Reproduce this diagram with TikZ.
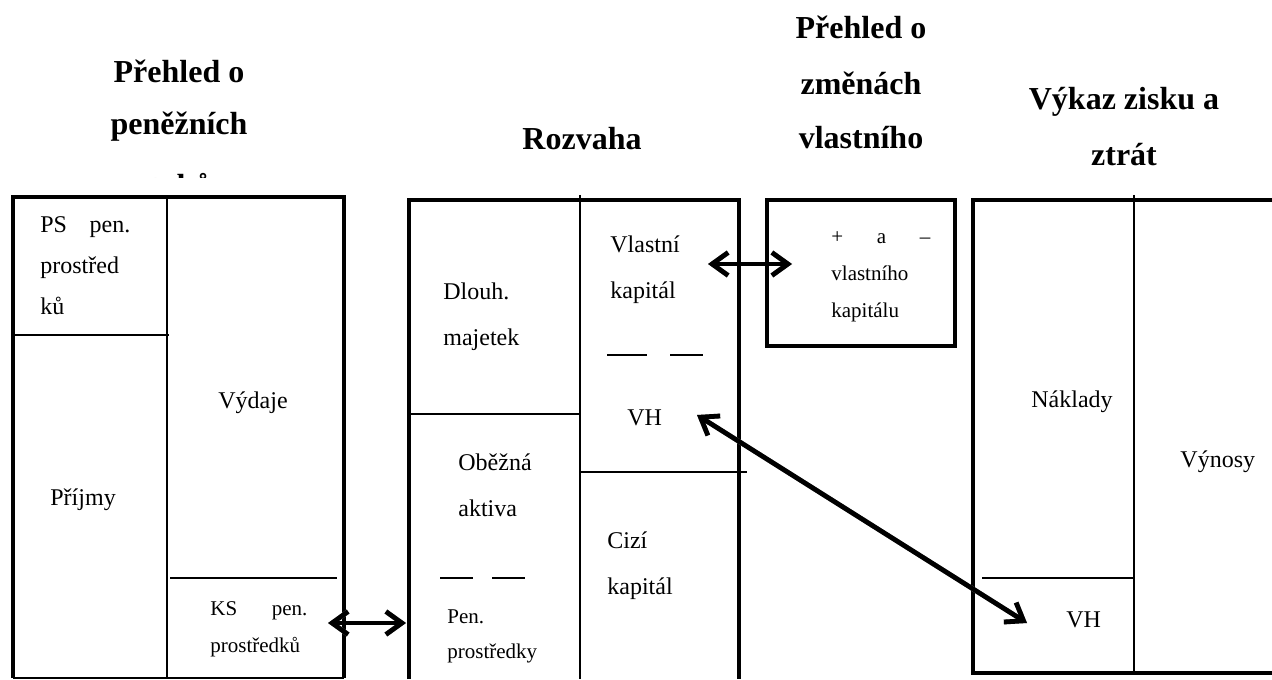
\documentclass[tikz,border=0pt]{standalone}
\usepackage{fontspec}
\setmainfont{Liberation Serif}
\usetikzlibrary{arrows.meta}
\tikzset{
  frame/.style={line width=2.3pt},
  divider/.style={line width=0.8pt},
  title/.style={font=\bfseries\fontsize{16}{19}\selectfont, inner sep=0pt, anchor=base},
  txt/.style={font=\fontsize{12}{14}\selectfont, inner sep=0pt, anchor=base west},
  smalltxt/.style={font=\fontsize{10.5}{12}\selectfont, inner sep=0pt, anchor=base west},
  link/.style={line width=2.4pt, {Straight Barb[length=8pt,width=11.5pt]}-{Straight Barb[length=8pt,width=11.5pt]}},
  linkshadow/.style={link, draw=black!40, shift={(3,3)}},
}

\begin{document}
\begin{tikzpicture}[x=0.5pt, y=-0.5pt]
\useasboundingbox (0,0) rectangle (1272,679);

% titles
\node[title] (cfA) at (179,83) {Přehled o};
\node[title] (cfB) at (179,135) {peněžních};
\begin{scope}
  \clip (100,150) rectangle (260,178);
  \node[title] (cfC) at (181,197) {toků};
\end{scope}
\node[title] (bsT) at (582,150) {Rozvaha};
\node[title] (eqA) at (861,39) {Přehled o};
\node[title] (eqB) at (861,95) {změnách};
\node[title] (eqC) at (861,149) {vlastního};
\node[title] (plA) at (1124,110) {Výkaz zisku a};
\node[title] (plB) at (1124,166) {ztrát};

% cash flow box
\draw[frame] (13,678) -- (13,197) -- (344,197) -- (344,678);
\draw[divider] (13,678) -- (344,678);
\draw[divider] (167,197) -- (167,678);
\draw[divider] (13,335) -- (169,335);
\draw[divider] (170,578) -- (337,578);
\node[txt] (psA) at (40,232) {\hbox to 45pt{PS\hfill pen.}};
\node[txt] (psB) at (40,273) {prostřed};
\node[txt] (psC) at (40,314) {ků};
\node[txt] (vyd) at (218,408) {Výdaje};
\node[txt] (prij) at (50,505) {Příjmy};
\node[smalltxt] (ksA) at (210,615) {\hbox to 48.5pt{KS\hfill pen.}};
\node[smalltxt] (ksB) at (210,652) {prostředků};

% balance sheet
\draw[frame] (409,679) -- (409,200) -- (739,200) -- (739,679);
\draw[divider] (580,195) -- (580,679);
\draw[divider] (409,414) -- (580,414);
\draw[divider] (580,472) -- (747,472);
\draw[divider] (607,355) -- (647,355);
\draw[divider] (670,355) -- (703,355);
\draw[divider] (440,578) -- (473,578);
\draw[divider] (492,578) -- (525,578);
\node[txt] (vlA) at (610,252) {Vlastní};
\node[txt] (vlB) at (610,298) {kapitál};
\node[txt] (vhBs) at (627,425) {VH};
\node[txt] (dlA) at (443,299) {Dlouh.};
\node[txt] (dlB) at (443,345) {majetek};
\node[txt] (obA) at (458,470) {Oběžná};
\node[txt] (obB) at (458,516) {aktiva};
\node[txt] (ciA) at (607,548) {Cizí};
\node[txt] (ciB) at (607,594) {kapitál};
\node[smalltxt] (peA) at (447,623) {Pen.};
\node[smalltxt] (peB) at (447,658) {prostředky};

% equity changes
\draw[frame] (767,200) rectangle (955,346);
\node[smalltxt] (pm) at (831,243) {\hbox to 49.5pt{+\hfill a\hfill –}};
\node[smalltxt] (eqK1) at (831,280) {vlastního};
\node[smalltxt] (eqK2) at (831,317) {kapitálu};

% income statement
\draw[frame] (1280,200) -- (973,200) -- (973,673) -- (1280,673);
\draw[divider] (1134,195) -- (1134,673);
\draw[divider] (982,578) -- (1134,578);
\node[txt] (nak) at (1031,407) {Náklady};
\node[txt] (vyn) at (1180,467) {Výnosy};
\node[txt] (vhPl) at (1066,627) {VH};

% links
\coordinate (ksEnd) at (328,623);
\coordinate (peEnd) at (406,623);
\coordinate (vlEnd) at (708,264);
\coordinate (pmEnd) at (792,264);
\coordinate (vhBsEnd) at (697,415);
\coordinate (vhPlEnd) at (1027,623);
\foreach \a/\b in {ksEnd/peEnd, vlEnd/pmEnd, vhBsEnd/vhPlEnd} {
  \draw[linkshadow] (\a) -- (\b);
  \draw[link] (\a) -- (\b);
}
\end{tikzpicture}
\end{document}
